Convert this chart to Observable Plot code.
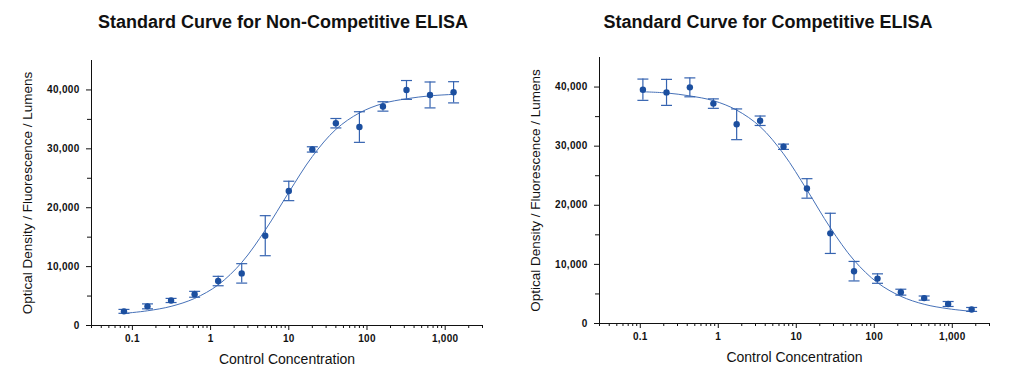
<!DOCTYPE html>
<html>
<head>
<meta charset="utf-8">
<script src="https://cdn.jsdelivr.net/npm/d3@7"></script>
<script src="https://cdn.jsdelivr.net/npm/@observablehq/plot@0.6"></script>
<style>
  html, body { margin: 0; padding: 0; background: #fff; }
  body { width: 1012px; height: 381px; position: relative; overflow: hidden;
         font-family: "Liberation Sans", Arial, Helvetica, sans-serif; }
  .title { position: absolute; top: 0; width: 420px; text-align: center;
           font-size: 18px; font-weight: bold; line-height: 18px; padding-top: 12.5px; color: #111; white-space: nowrap; }
  .panel { position: absolute; }
  .panel svg { display: block; overflow: visible; }
  .panel g[aria-label$="tick label"] text { font-weight: bold; letter-spacing: 0.3px; }
</style>
</head>
<body>
<div class="title" id="t1"></div>
<div class="title" id="t2"></div>
<div class="panel" id="p1"></div>
<div class="panel" id="p2"></div>
<script>
// ---- Titles & labels ----
const titles = ["Standard Curve for Non-Competitive ELISA", "Standard Curve for Competitive ELISA"];
const xLabel = "Control Concentration";
const yLabel = "Optical Density / Fluorescence / Lumens";

// ---- Axis ticks ----
const xMajorTicks = [0.1, 1, 10, 100, 1000];
const yMajorTicks = [0, 10000, 20000, 30000, 40000];
const yMinorTicks = [5000, 15000, 25000, 35000];

// ---- Non-competitive ELISA ----
const ncConc = [0.078, 0.156, 0.3125, 0.625, 1.25, 2.5, 5, 10, 20, 40, 80, 160, 320, 640, 1280];
const ncMean = [2400, 3250, 4250, 5300, 7550, 8850, 15250, 22850, 29900, 34350, 33700, 37200, 40000, 39150, 39600];
const ncErr  = [330, 420, 350, 500, 800, 1650, 3400, 1650, 450, 800, 2600, 800, 1600, 2200, 1800];
const ncCurveX = [0.078, 0.156, 0.3125, 0.625, 1.25, 2.5, 5, 10, 20, 40, 80, 160, 320, 640, 1280];
const ncCurveY = [2050, 2500, 3250, 4600, 6900, 10700, 16200, 22600, 28700, 33300, 36100, 37700, 38500, 39000, 39250];

// ---- Competitive ELISA ----
const cConc = [0.108, 0.217, 0.432, 0.865, 1.72, 3.44, 6.86, 13.7, 27.3, 55, 110, 219, 436, 885, 1770];
const cMean = [39550, 39100, 39950, 37200, 33700, 34300, 29900, 22850, 15250, 8850, 7600, 5300, 4300, 3300, 2380];
const cErr  = [1800, 2200, 1600, 800, 2600, 800, 450, 1650, 3400, 1650, 800, 500, 350, 420, 330];
const cCurveX = [0.108, 0.217, 0.432, 0.865, 1.72, 3.44, 6.86, 13.7, 27.3, 55, 110, 219, 436, 885, 1770];
const cCurveY = [39200, 39000, 38500, 37700, 36100, 33300, 28700, 22600, 16200, 10700, 6900, 4600, 3250, 2500, 2050];

const xDomain = [0.03, 3000];
const yDomain = [0, 45000];

const pointColor = "#1c4f9f";
const barColor = "#3563b0";
const curveColor = "#4671b8";
const fmt = d3.format(",");

const capSymbol = { draw(ctx) { ctx.moveTo(-5.5, 0); ctx.lineTo(5.5, 0); } };

function chart(conc, mean, err, curveX, curveY, dims) {
  const pts = conc.map((x, i) => ({x, y: mean[i], lo: mean[i] - err[i], hi: mean[i] + err[i]}));
  const curve = curveX.map((x, i) => ({x, y: curveY[i]}));
  const minorX = d3.scaleLog().domain(xDomain).ticks().filter(t => !xMajorTicks.some(m => Math.abs(m - t) / m < 1e-9));
  return Plot.plot({
    width: dims.width, height: dims.height,
    marginTop: dims.marginTop, marginBottom: dims.marginBottom,
    marginLeft: dims.marginLeft, marginRight: dims.marginRight,
    style: { fontFamily: '"Liberation Sans", Arial, sans-serif', fontSize: "10px", color: "#111", background: "white" },
    x: { type: "log", domain: xDomain },
    y: { domain: yDomain },
    marks: [
      Plot.axisX(xMajorTicks, { tickSize: 5, tickPadding: 4, tickFormat: fmt, label: null, fontWeight: "bold", fontSize: 10 }),
      Plot.axisX(minorX, { tickSize: 3, tickFormat: () => "", label: null }),
      Plot.axisY(yMajorTicks, { tickSize: 5, tickPadding: 7, tickFormat: fmt, label: null, fontWeight: "bold", fontSize: 10 }),
      Plot.axisY(yMinorTicks, { tickSize: 4, tickFormat: () => "", label: null }),
      Plot.ruleY([0], { stroke: "#111" }),
      Plot.ruleX([xDomain[0]], { stroke: "#111" }),
      Plot.line(curve, { x: "x", y: "y", stroke: curveColor, strokeWidth: 1, curve: "catmull-rom" }),
      Plot.ruleX(pts, { x: "x", y1: "lo", y2: "hi", stroke: barColor, strokeWidth: 1.2 }),
      Plot.dot(pts, { x: "x", y: "hi", symbol: capSymbol, fill: "none", stroke: barColor, strokeWidth: 1.2 }),
      Plot.dot(pts, { x: "x", y: "lo", symbol: capSymbol, fill: "none", stroke: barColor, strokeWidth: 1.2 }),
      Plot.dot(pts, { x: "x", y: "y", r: 3.2, fill: pointColor, stroke: null }),
      Plot.text([xLabel], { frameAnchor: "bottom", dy: 34, fontSize: 14, fill: "#111", textAnchor: "middle", lineAnchor: "middle" }),
      Plot.text([yLabel], { frameAnchor: "left", dx: -64, rotate: -90, fontSize: 13.5, fill: "#111", textAnchor: "middle", lineAnchor: "middle" })
    ]
  });
}

const t1 = document.getElementById("t1");
t1.textContent = titles[0];
t1.style.left = "73px";
const t2 = document.getElementById("t2");
t2.textContent = titles[1];
t2.style.left = "558px";

const p1 = document.getElementById("p1");
p1.style.left = "0px"; p1.style.top = "44px";
p1.appendChild(chart(ncConc, ncMean, ncErr, ncCurveX, ncCurveY,
  { width: 506, height: 337, marginTop: 16, marginBottom: 56, marginLeft: 91, marginRight: 24 }));

const p2 = document.getElementById("p2");
p2.style.left = "508px"; p2.style.top = "42px";
p2.appendChild(chart(cConc, cMean, cErr, cCurveX, cCurveY,
  { width: 504, height: 339, marginTop: 15, marginBottom: 58, marginLeft: 91, marginRight: 23 }));
</script>
</body>
</html>
